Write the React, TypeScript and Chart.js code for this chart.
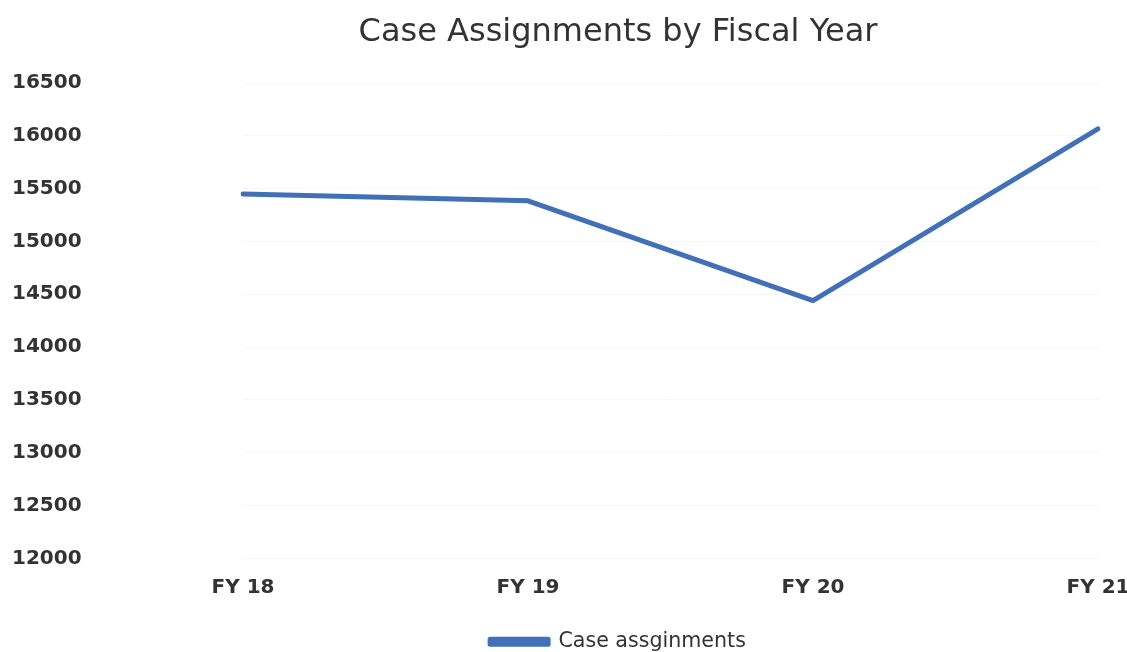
import React, { useEffect, useRef } from "react";
import { Chart, registerables } from "chart.js";

Chart.register(...registerables);

const categories = ["FY 18", "FY 19", "FY 20", "FY 21"];
const caseAssignments = [15450, 15385, 14440, 16065];
const seriesLabel = "Case assginments";
const chartTitle = "Case Assignments by Fiscal Year";
const yMin = 12000;
const yMax = 16500;
const yStep = 500;

const LINE_COLOR = "#4170B8";
const TEXT_COLOR = "#333333";
const CANVAS_W = 1236;
const CANVAS_H = 652;

export default function App() {
  const ref = useRef<HTMLCanvasElement | null>(null);

  useEffect(() => {
    document.body.style.margin = "0";
    const canvas = ref.current;
    if (!canvas) return;
    const chart = new Chart(canvas, {
      type: "line",
      data: {
        labels: categories,
        datasets: [
          {
            label: seriesLabel,
            data: caseAssignments,
            borderColor: LINE_COLOR,
            backgroundColor: LINE_COLOR,
            borderWidth: 5,
            pointRadius: 0,
            pointHoverRadius: 0,
            tension: 0,
            borderCapStyle: "round",
            borderJoinStyle: "round",
          },
        ],
      },
      options: {
        responsive: true,
        animation: false,
        maintainAspectRatio: false,
        devicePixelRatio: 1,
        layout: { padding: { left: 12, right: 12, top: 0, bottom: -10 } },
        plugins: {
          title: {
            display: true,
            text: chartTitle,
            color: TEXT_COLOR,
            font: { family: "'DejaVu Sans', sans-serif", size: 32, weight: "normal" },
            padding: { top: 13, bottom: 31.6 },
          },
          legend: {
            display: true,
            position: "bottom",
            labels: {
              color: TEXT_COLOR,
              font: { family: "'DejaVu Sans', sans-serif", size: 20.6 },
              boxWidth: 58,
              boxHeight: 5,
              padding: 3,
            },
          },
          tooltip: { enabled: false },
        },
        scales: {
          x: {
            type: "category",
            offset: false,
            grid: { display: false, drawTicks: false },
            border: { display: false },
            ticks: {
              color: TEXT_COLOR,
              font: { family: "'DejaVu Sans', sans-serif", size: 20, weight: "bold" },
              padding: 17,
              maxRotation: 0,
            },
            afterFit: (scale: any) => {
              scale.height = 70;
              scale.paddingLeft = 0;
              scale.paddingRight = 138;
            },
          },
          y: {
            min: yMin,
            max: yMax,
            grid: { color: "#f6f6f6", drawTicks: false },
            border: { display: false },
            ticks: {
              stepSize: yStep,
              color: TEXT_COLOR,
              font: { family: "'DejaVu Sans', sans-serif", size: 20, weight: "bold" },
              padding: 8,
              crossAlign: "far",
              callback: (v: any) => String(v),
            },
            afterFit: (scale: any) => {
              scale.width = 231;
              scale.paddingTop = 0;
              scale.paddingBottom = 0;
            },
          },
        },
      },
    });
    return () => chart.destroy();
  }, []);

  return (
    <div style={{ position: "fixed", left: 0, top: 0, width: CANVAS_W, height: CANVAS_H }}>
      <canvas ref={ref} />
    </div>
  );
}
